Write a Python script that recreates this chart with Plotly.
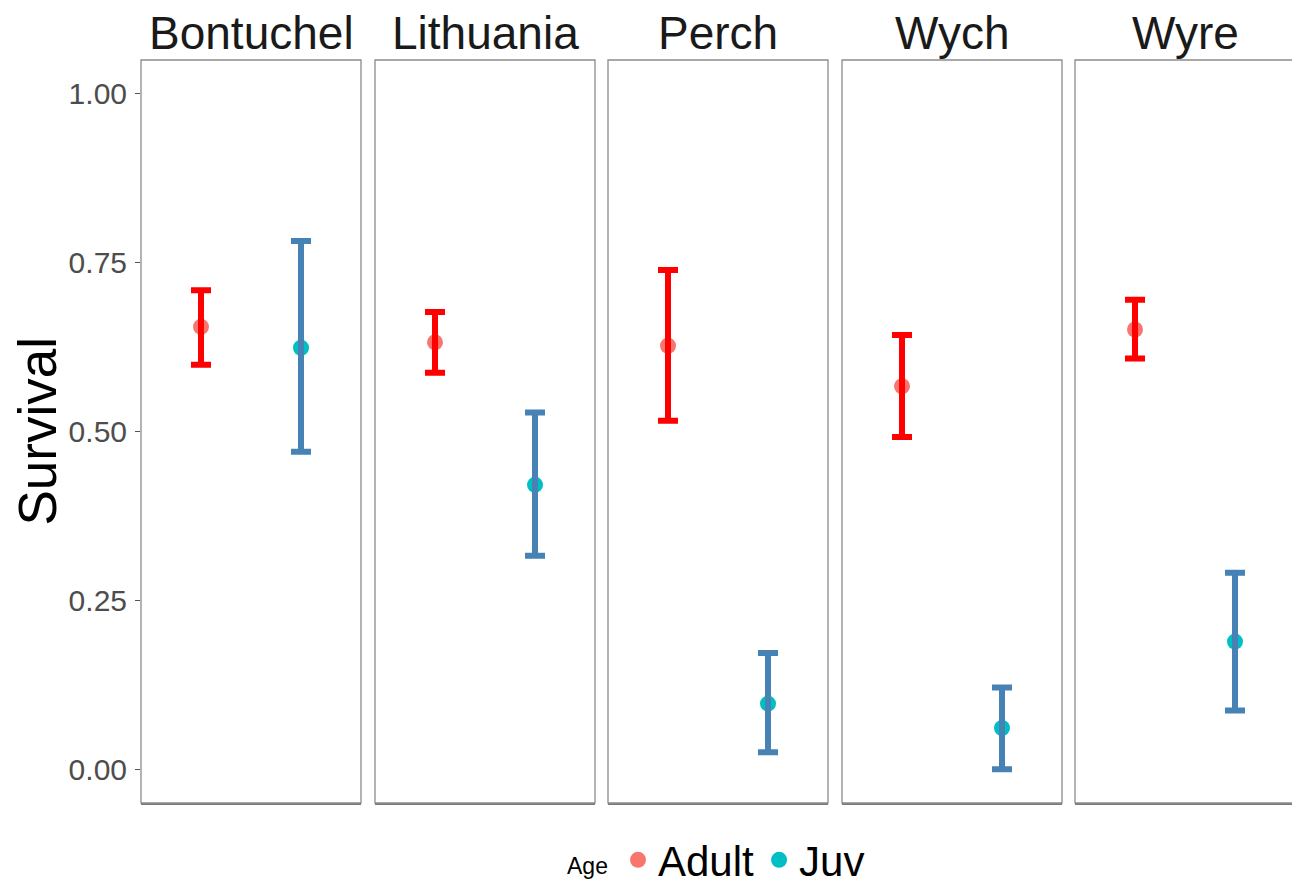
import plotly.graph_objects as go

sites = ["Bontuchel", "Lithuania", "Perch", "Wych", "Wyre"]
ages = ["Adult", "Juv"]
adult_est = [0.655, 0.632, 0.627, 0.567, 0.651]
adult_lo = [0.599, 0.587, 0.516, 0.492, 0.608]
adult_hi = [0.709, 0.677, 0.739, 0.643, 0.695]
juv_est = [0.624, 0.421, 0.097, 0.061, 0.189]
juv_lo = [0.470, 0.316, 0.025, 0.000, 0.087]
juv_hi = [0.782, 0.528, 0.172, 0.121, 0.291]
y_ticks = [0.0, 0.25, 0.5, 0.75, 1.0]
y_tick_labels = ["0.00", "0.25", "0.50", "0.75", "1.00"]

W, H = 1292, 884
FONT = "Liberation Sans, Arial, sans-serif"
point_colors = {"Adult": "#F8766D", "Juv": "#00BFC4"}
bar_colors = {"Adult": "#FF0000", "Juv": "#4682B4"}

panel_left_px = [141, 375, 608, 842, 1075]
panel_w_px = 220
top_px, bot_px = 60, 803
px_per_unit = 100.0

fig = go.Figure()
layout = dict()
shapes = []
annotations = []

for i, site in enumerate(sites):
    n = i + 1
    xa = "x" if n == 1 else f"x{n}"
    ya = "y" if n == 1 else f"y{n}"
    x0 = panel_left_px[i] / W
    x1 = min((panel_left_px[i] + panel_w_px) / W, 1.0)
    width_px = (x1 - x0) * W
    xr = [-0.6, -0.6 + width_px / px_per_unit]
    layout["xaxis" if n == 1 else f"xaxis{n}"] = dict(
        domain=[x0, x1], anchor=ya, type="category",
        categoryorder="array", categoryarray=ages, range=xr,
        showticklabels=False, ticks="", showgrid=False, zeroline=False,
        showline=True, linecolor="#7a7a7a", linewidth=1.5, fixedrange=True,
    )
    ydict = dict(
        domain=[1 - bot_px / H, 1 - top_px / H], anchor=xa,
        range=[-0.05, 1.05], showgrid=False, zeroline=False, fixedrange=True,
    )
    if n == 1:
        ydict.update(tickvals=y_ticks, ticktext=y_tick_labels, ticks="outside",
                     ticklen=5, tickcolor="#555555", tickwidth=1,
                     tickfont=dict(size=30, color="#4D4D4D", family=FONT),
                     ticklabelstandoff=2)
    else:
        ydict.update(showticklabels=False, ticks="")
    layout["yaxis" if n == 1 else f"yaxis{n}"] = ydict

    # panel border
    shapes.append(dict(type="rect", xref=f"{xa} domain", yref=f"{ya} domain",
                       x0=0, x1=1.0 if n < 5 else 1.05, y0=0, y1=1,
                       line=dict(color="#8c8c8c", width=1.3), layer="above"))
    annotations.append(dict(text=site, xref="paper", yref="paper",
                            x=(panel_left_px[i] + panel_w_px / 2) / W,
                            y=1 - 33 / H, xanchor="center", yanchor="middle",
                            showarrow=False,
                            font=dict(size=46, color="#1A1A1A", family=FONT)))

    for age, est, lo, hi in (("Adult", adult_est[i], adult_lo[i], adult_hi[i]),
                             ("Juv", juv_est[i], juv_lo[i], juv_hi[i])):
        fig.add_trace(go.Scatter(
            x=[age], y=[est], mode="markers", xaxis=xa, yaxis=ya,
            marker=dict(color=point_colors[age], size=16),
            name=age, legendgroup=age, showlegend=(n == 1),
            hoverinfo="skip"))
        fig.add_trace(go.Scatter(
            x=[age], y=[est], mode="markers", xaxis=xa, yaxis=ya,
            marker=dict(color=bar_colors[age], size=1, opacity=0),
            error_y=dict(type="data", symmetric=False, array=[hi - est],
                         arrayminus=[est - lo], color=bar_colors[age],
                         thickness=6, width=10),
            showlegend=False, hoverinfo="skip"))

annotations.append(dict(text="Survival", xref="paper", yref="paper",
                        x=37 / W, y=1 - 431.5 / H, textangle=-90,
                        xanchor="center", yanchor="middle", showarrow=False,
                        font=dict(size=53, color="#000000", family=FONT)))
annotations.append(dict(text="Age", xref="paper", yref="paper",
                        x=587 / W, y=1 - 866 / H,
                        xanchor="center", yanchor="middle", showarrow=False,
                        font=dict(size=23, color="#000000", family=FONT)))

fig.update_layout(
    **layout,
    width=W, height=H,
    margin=dict(l=0, r=0, t=0, b=0, autoexpand=False),
    paper_bgcolor="white", plot_bgcolor="white",
    shapes=shapes, annotations=annotations,
    font=dict(family=FONT),
    legend=dict(orientation="h", xref="paper", yref="paper",
                x=618 / W, xanchor="left",
                y=1 - 860 / H, yanchor="middle",
                font=dict(size=42, color="#000000", family=FONT),
                itemwidth=30, tracegroupgap=0),
)

fig.write_html("out.html")
